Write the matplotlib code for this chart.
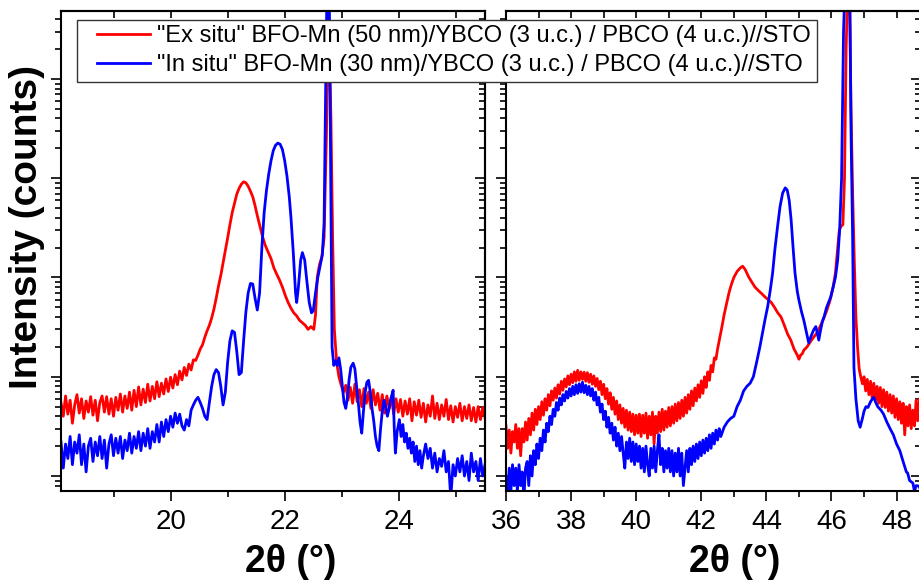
import matplotlib
matplotlib.use('Agg')
import matplotlib.pyplot as plt
import numpy as np
from matplotlib.lines import Line2D
from matplotlib.legend_handler import HandlerLine2D
from matplotlib.ticker import MultipleLocator, LogLocator, NullFormatter

plt.rcParams['font.family'] = ['Liberation Sans', 'DejaVu Sans']

#===========================================================
# --- Données ---------------------------------------------
#===========================================================

label_ex = '"Ex situ" BFO-Mn (50 nm)/YBCO (3 u.c.) / PBCO (4 u.c.)//STO'
label_in = '"In situ" BFO-Mn (30 nm)/YBCO (3 u.c.) / PBCO (4 u.c.)//STO'

# Fenêtre 18-25.5° : pic (001)
ex_1_theta = [
    18.07, 18.11, 18.15, 18.19, 18.23, 18.27, 18.31, 18.35, 18.39, 18.43,
    18.47, 18.51, 18.55, 18.59, 18.63, 18.67, 18.71, 18.75, 18.79, 18.83,
    18.87, 18.91, 18.95, 18.99, 19.03, 19.07, 19.11, 19.15, 19.19, 19.23,
    19.27, 19.31, 19.35, 19.39, 19.43, 19.47, 19.51, 19.55, 19.59, 19.63,
    19.67, 19.71, 19.75, 19.79, 19.83, 19.87, 19.91, 19.95, 19.99, 20.03,
    20.07, 20.11, 20.15, 20.19, 20.23, 20.27, 20.31, 20.35, 20.39, 20.43,
    20.47, 20.51, 20.55, 20.59, 20.63, 20.67, 20.71, 20.75, 20.79, 20.83,
    20.87, 20.91, 20.95, 20.99, 21.03, 21.07, 21.11, 21.15, 21.19, 21.23,
    21.27, 21.31, 21.35, 21.39, 21.43, 21.47, 21.51, 21.55, 21.60, 21.65,
    21.70, 21.75, 21.80, 21.85, 21.90, 21.95, 22.00, 22.05, 22.10, 22.15,
    22.20, 22.25, 22.30, 22.35, 22.40, 22.45, 22.50, 22.53, 22.56, 22.60,
    22.64, 22.68, 22.72, 22.76, 22.80, 22.83, 22.86, 22.90, 22.94, 22.98,
    23.02, 23.06, 23.10, 23.14, 23.18, 23.22, 23.26, 23.30, 23.34, 23.38,
    23.42, 23.46, 23.50, 23.54, 23.58, 23.62, 23.66, 23.70, 23.74, 23.78,
    23.82, 23.86, 23.90, 23.94, 23.98, 24.02, 24.06, 24.10, 24.14, 24.18,
    24.22, 24.26, 24.30, 24.34, 24.38, 24.42, 24.46, 24.50, 24.54, 24.58,
    24.62, 24.66, 24.70, 24.74, 24.78, 24.82, 24.86, 24.90, 24.94, 24.98,
    25.02, 25.06, 25.10, 25.14, 25.18, 25.22, 25.26, 25.30, 25.34, 25.38,
    25.42, 25.46, 25.50]
ex_1_counts = [
    55, 40, 64, 42, 58, 34, 52, 66, 43, 60,
    38, 57, 44, 63, 41, 58, 36, 55, 64, 44,
    63, 42, 60, 40, 62, 46, 67, 44, 64, 48,
    70, 46, 73, 50, 79, 52, 75, 55, 84, 57,
    80, 60, 89, 63, 86, 67, 95, 71, 99, 77,
    105, 83, 114, 93, 124, 103, 134, 117, 148, 146,
    165, 190, 210, 250, 290, 330, 390, 480, 620, 820,
    1050, 1400, 1850, 2500, 3400, 4500, 5600, 6900, 7900, 8700,
    9200, 9000, 8300, 7400, 6500, 5300, 4200, 3400, 2600, 2100,
    1800, 1550, 1250, 1080, 940, 800, 660, 560, 490, 440,
    410, 370, 350, 330, 300, 320, 300, 420, 1000, 1350,
    1600, 2500, 25000, 440000, 40000, 2500, 300, 140, 100, 82,
    70, 82, 58, 78, 54, 84, 56, 74, 50, 76,
    54, 70, 48, 74, 52, 68, 46, 66, 43, 64,
    48, 62, 42, 60, 44, 59, 40, 57, 42, 60,
    36, 56, 41, 58, 39, 54, 35, 52, 40, 64,
    38, 54, 37, 52, 40, 59, 37, 51, 35, 50,
    39, 54, 36, 50, 38, 52, 36, 49, 35, 50,
    37, 49, 39]

in_1_theta = [
    18.07, 18.11, 18.15, 18.19, 18.23, 18.27, 18.31, 18.35, 18.39, 18.43,
    18.47, 18.51, 18.55, 18.59, 18.63, 18.67, 18.71, 18.75, 18.79, 18.83,
    18.87, 18.91, 18.95, 18.99, 19.03, 19.07, 19.11, 19.15, 19.19, 19.23,
    19.27, 19.31, 19.35, 19.39, 19.43, 19.47, 19.51, 19.55, 19.59, 19.63,
    19.67, 19.71, 19.75, 19.79, 19.83, 19.87, 19.91, 19.95, 19.99, 20.03,
    20.07, 20.11, 20.15, 20.19, 20.23, 20.27, 20.31, 20.35, 20.39, 20.43,
    20.47, 20.51, 20.55, 20.59, 20.63, 20.67, 20.71, 20.75, 20.79, 20.83,
    20.87, 20.91, 20.95, 20.99, 21.03, 21.07, 21.11, 21.15, 21.19, 21.23,
    21.27, 21.31, 21.35, 21.39, 21.43, 21.47, 21.51, 21.55, 21.59, 21.63,
    21.67, 21.71, 21.75, 21.79, 21.83, 21.87, 21.91, 21.95, 21.99, 22.03,
    22.07, 22.10, 22.14, 22.18, 22.20, 22.23, 22.27, 22.30, 22.34, 22.38,
    22.42, 22.46, 22.49, 22.53, 22.57, 22.61, 22.65, 22.68, 22.71, 22.74,
    22.77, 22.80, 22.82, 22.85, 22.88, 22.91, 22.94, 22.97, 23.00, 23.03,
    23.06, 23.09, 23.12, 23.15, 23.19, 23.22, 23.25, 23.28, 23.31, 23.34,
    23.37, 23.40, 23.43, 23.46, 23.49, 23.52, 23.55, 23.58, 23.61, 23.64,
    23.67, 23.70, 23.73, 23.76, 23.79, 23.82, 23.85, 23.89, 23.91, 23.93,
    23.96, 24.00, 24.03, 24.06, 24.09, 24.12, 24.15, 24.18, 24.21, 24.24,
    24.27, 24.30, 24.33, 24.36, 24.39, 24.42, 24.46, 24.50, 24.54, 24.58,
    24.62, 24.66, 24.70, 24.74, 24.78, 24.82, 24.86, 24.90, 24.94, 24.98,
    25.02, 25.06, 25.10, 25.14, 25.18, 25.22, 25.26, 25.30, 25.34, 25.38,
    25.42, 25.46, 25.50]
in_1_counts = [
    22, 12, 21, 15, 25, 13, 22, 17, 26, 13,
    21, 11, 20, 24, 14, 22, 16, 25, 15, 23,
    12, 21, 26, 16, 24, 17, 25, 15, 23, 18,
    27, 17, 25, 19, 28, 18, 27, 20, 30, 19,
    28, 22, 33, 22, 35, 25, 37, 28, 40, 31,
    43, 34, 42, 32, 29, 37, 32, 46, 52, 58,
    62, 55, 48, 40, 37, 55, 80, 105, 118, 110,
    80, 52, 70, 140, 230, 290, 280, 180, 105, 110,
    230, 450, 700, 870, 860, 620, 470, 700, 2000, 4500,
    7500, 11000, 15000, 19000, 21500, 22600, 22000, 19500, 15000, 10500,
    6500, 4000, 1800, 700, 560, 800, 1500, 1780, 1500, 900,
    560, 440, 460, 700, 1000, 1300, 1700, 3500, 100000, 2000000,
    900000, 5000, 200, 130, 145, 130, 155, 120, 80, 55,
    48, 62, 95, 125, 137, 120, 80, 55, 35, 27,
    45, 70, 88, 92, 70, 48, 36, 25, 20, 18,
    30, 45, 58, 50, 40, 48, 60, 73, 30, 17,
    28, 37, 25, 33, 22, 27, 19, 24, 17, 22,
    14, 20, 13, 18, 12, 16, 21, 15, 19, 12,
    17, 11, 15, 12.5, 18, 11, 14, 6, 13, 10,
    15, 11, 16, 10, 14, 9, 17, 11, 14, 9,
    15, 10, 13]

# Fenêtre 36-48.8° : pic (002)
ex_2_theta = [
    36.00, 36.05, 36.10, 36.15, 36.20, 36.25, 36.30, 36.35, 36.40, 36.45,
    36.50, 36.55, 36.60, 36.65, 36.70, 36.75, 36.80, 36.85, 36.90, 36.95,
    37.00, 37.05, 37.10, 37.15, 37.20, 37.25, 37.30, 37.35, 37.40, 37.45,
    37.50, 37.55, 37.60, 37.65, 37.70, 37.75, 37.80, 37.85, 37.90, 37.95,
    38.00, 38.05, 38.10, 38.15, 38.20, 38.25, 38.30, 38.35, 38.40, 38.45,
    38.50, 38.55, 38.60, 38.65, 38.70, 38.75, 38.80, 38.85, 38.90, 38.95,
    39.00, 39.05, 39.10, 39.15, 39.20, 39.25, 39.30, 39.35, 39.40, 39.45,
    39.50, 39.55, 39.60, 39.65, 39.70, 39.75, 39.80, 39.85, 39.90, 39.95,
    40.00, 40.05, 40.10, 40.15, 40.20, 40.25, 40.30, 40.35, 40.40, 40.45,
    40.50, 40.55, 40.60, 40.65, 40.70, 40.75, 40.80, 40.85, 40.90, 40.95,
    41.00, 41.05, 41.10, 41.15, 41.20, 41.25, 41.30, 41.35, 41.40, 41.45,
    41.50, 41.55, 41.60, 41.65, 41.70, 41.75, 41.80, 41.85, 41.90, 41.95,
    42.00, 42.05, 42.10, 42.15, 42.20, 42.25, 42.30, 42.35, 42.40, 42.45,
    42.50, 42.55, 42.60, 42.65, 42.70, 42.75, 42.80, 42.85, 42.90, 42.95,
    43.00, 43.10, 43.20, 43.27, 43.35, 43.45, 43.55, 43.65, 43.75, 43.85,
    43.95, 44.05, 44.15, 44.25, 44.35, 44.45, 44.55, 44.65, 44.75, 44.85,
    44.95, 45.00, 45.05, 45.10, 45.15, 45.25, 45.35, 45.45, 45.55, 45.65,
    45.75, 45.85, 45.95, 46.05, 46.12, 46.18, 46.24, 46.30, 46.35, 46.40,
    46.45, 46.50, 46.55, 46.60, 46.65, 46.70, 46.75, 46.80, 46.85, 46.90,
    46.95, 47.00, 47.05, 47.10, 47.15, 47.20, 47.25, 47.30, 47.35, 47.40,
    47.45, 47.50, 47.55, 47.60, 47.65, 47.70, 47.75, 47.80, 47.85, 47.90,
    47.95, 48.00, 48.05, 48.10, 48.15, 48.20, 48.25, 48.30, 48.35, 48.40,
    48.45, 48.50, 48.55, 48.60, 48.65, 48.70, 48.75]
ex_2_counts = [
    32, 19, 29, 17, 28, 22, 33, 19, 30, 16,
    30, 22, 35, 23, 38, 26, 43, 29, 47, 33,
    50, 37, 56, 41, 60, 46, 66, 51, 72, 58,
    77, 61, 83, 67, 90, 73, 95, 79, 102, 83,
    106, 87, 112, 90, 116, 92, 112, 94, 111, 90,
    110, 88, 106, 84, 102, 80, 96, 74, 90, 66,
    84, 60, 76, 53, 69, 47, 62, 42, 57, 37,
    52, 34, 48, 31, 46, 29, 44, 28, 42, 26,
    41, 27, 42, 25, 41, 27, 43, 24, 40, 26,
    44, 21, 40, 27, 44, 28, 47, 29, 45, 31,
    49, 32, 50, 34, 53, 36, 55, 38, 58, 40,
    62, 43, 66, 47, 72, 51, 77, 57, 83, 62,
    91, 68, 100, 78, 112, 92, 130, 112, 155, 150,
    190, 230, 280, 340, 420, 500, 590, 700, 800, 900,
    1000, 1150, 1250, 1300, 1200, 1020, 900, 800, 740, 690,
    640, 600, 560, 500, 440, 400, 330, 270, 234, 190,
    165, 150, 165, 170, 185, 200, 225, 250, 275, 320,
    380, 460, 580, 800, 1100, 1800, 3000, 3300, 3400, 10000,
    200000, 1000000, 1000000, 50000, 7000, 1500, 400, 200, 120, 100,
    85, 100, 72, 94, 66, 90, 60, 86, 58, 80,
    54, 78, 50, 74, 49, 70, 45, 66, 43, 64,
    39, 60, 37, 56, 34, 54, 26, 50, 32, 52,
    30, 46, 32, 58, 36, 60, 38]

in_2_theta = [
    36.00, 36.05, 36.10, 36.15, 36.20, 36.25, 36.30, 36.35, 36.40, 36.45,
    36.50, 36.55, 36.60, 36.65, 36.70, 36.75, 36.80, 36.85, 36.90, 36.95,
    37.00, 37.05, 37.10, 37.15, 37.20, 37.25, 37.30, 37.35, 37.40, 37.45,
    37.50, 37.55, 37.60, 37.65, 37.70, 37.75, 37.80, 37.85, 37.90, 37.95,
    38.00, 38.05, 38.10, 38.15, 38.20, 38.25, 38.30, 38.35, 38.40, 38.45,
    38.50, 38.55, 38.60, 38.65, 38.70, 38.75, 38.80, 38.85, 38.90, 38.95,
    39.00, 39.05, 39.10, 39.15, 39.20, 39.25, 39.30, 39.35, 39.40, 39.45,
    39.50, 39.55, 39.60, 39.65, 39.70, 39.75, 39.80, 39.85, 39.90, 39.95,
    40.00, 40.05, 40.10, 40.15, 40.20, 40.25, 40.30, 40.35, 40.40, 40.45,
    40.50, 40.55, 40.60, 40.65, 40.70, 40.75, 40.80, 40.85, 40.90, 40.95,
    41.00, 41.05, 41.10, 41.15, 41.20, 41.25, 41.30, 41.35, 41.40, 41.45,
    41.50, 41.55, 41.60, 41.65, 41.70, 41.75, 41.80, 41.85, 41.90, 41.95,
    42.00, 42.05, 42.10, 42.15, 42.20, 42.25, 42.30, 42.35, 42.40, 42.45,
    42.50, 42.55, 42.60, 42.70, 42.80, 42.90, 43.00, 43.10, 43.20, 43.30,
    43.40, 43.50, 43.60, 43.70, 43.80, 43.88, 43.96, 44.04, 44.12, 44.19,
    44.26, 44.34, 44.42, 44.50, 44.58, 44.64, 44.70, 44.76, 44.82, 44.88,
    44.95, 45.00, 45.08, 45.15, 45.22, 45.30, 45.38, 45.46, 45.52, 45.57,
    45.61, 45.66, 45.72, 45.77, 45.85, 45.93, 45.98, 46.05, 46.12, 46.19,
    46.25, 46.31, 46.37, 46.45, 46.55, 46.60, 46.65, 46.69, 46.75, 46.82,
    46.88, 46.95, 47.00, 47.06, 47.12, 47.20, 47.26, 47.30, 47.36, 47.42,
    47.52, 47.60, 47.70, 47.80, 47.90, 48.00, 48.10, 48.20, 48.30, 48.34,
    48.40, 48.50, 48.55, 48.60, 48.69, 48.75]
in_2_counts = [
    10, 6, 12, 7, 13, 8, 12, 7, 13, 8,
    11, 6, 12, 14, 8, 16, 10, 18, 13, 21,
    15, 24, 18, 29, 22, 34, 28, 40, 33, 47,
    40, 55, 46, 61, 52, 66, 57, 71, 61, 76,
    64, 80, 66, 83, 68, 85, 70, 88, 69, 82,
    66, 80, 64, 76, 58, 70, 52, 62, 44, 53,
    37, 45, 31, 39, 27, 34, 23, 31, 20, 27,
    18, 25, 17, 12, 22, 15, 24, 14, 22, 13,
    21, 14, 20, 12, 19, 11, 20, 13, 10, 19,
    12, 20, 11, 18, 26, 13, 19, 11, 18, 12,
    19, 11, 18, 10, 17, 11, 19, 10, 17, 8,
    12, 18, 11, 19, 13, 20, 14, 21, 15, 22,
    16, 23, 17, 24, 18, 26, 19, 27, 21, 29,
    23, 30, 25, 31, 35, 38, 40, 50, 58, 72,
    80, 86, 100, 140, 200, 275, 380, 510, 750, 1100,
    1900, 3200, 5200, 7100, 8000, 7600, 6000, 3800, 2000, 1100,
    720, 590, 450, 370, 290, 220, 260, 300, 320, 270,
    234, 290, 360, 400, 500, 580, 640, 800, 1000, 1500,
    3000, 10000, 300000, 2000000, 2000000, 30000, 2500, 124, 60, 36,
    31, 38, 45, 50, 49, 56, 60, 62, 55, 50,
    46, 42, 35, 30, 26, 21, 18, 14, 11, 10.7,
    9, 8.5, 7, 8, 7.9, 7]

#===========================================================
# --- Figure et mise en page -------------------------------
#===========================================================

red = '#ff0000'
blue = '#0000ff'
ylims = (7.06, 4.84e5)

fig = plt.figure(figsize=(9.2, 5.84), dpi=100)
ax1 = fig.add_axes([61 / 920, 93 / 584, 424 / 920, 480 / 584])
ax2 = fig.add_axes([506 / 920, 93 / 584, 415 / 920, 480 / 584])

ax1.plot(ex_1_theta, ex_1_counts, color=red, lw=2.0)
ax1.plot(in_1_theta, in_1_counts, color=blue, lw=2.0)
ax2.plot(ex_2_theta, ex_2_counts, color=red, lw=2.0)
ax2.plot(in_2_theta, in_2_counts, color=blue, lw=2.0)

ax1.set_xlim(18.07, 25.5)
ax2.set_xlim(36, 48.75)

for ax in (ax1, ax2):
    ax.set_yscale('log')
    ax.set_ylim(*ylims)
    ax.yaxis.set_major_locator(LogLocator(base=10, numticks=12))
    ax.yaxis.set_minor_locator(LogLocator(base=10, subs=np.arange(2, 10), numticks=12))
    ax.yaxis.set_major_formatter(NullFormatter())
    ax.yaxis.set_minor_formatter(NullFormatter())
    ax.xaxis.set_major_locator(MultipleLocator(2))
    ax.xaxis.set_minor_locator(MultipleLocator(1))
    for sp in ax.spines.values():
        sp.set_linewidth(1.5)
    ax.tick_params(which='major', direction='out', length=7, width=1.2,
                   labelsize=20, pad=6)
    ax.tick_params(which='minor', direction='out', length=4, width=1.2)
    ax.tick_params(axis='y', which='minor', length=4.5)

    # graduations miroir vers l'intérieur (haut et droite)
    top = ax.secondary_xaxis('top')
    top.xaxis.set_major_locator(MultipleLocator(2))
    top.xaxis.set_minor_locator(MultipleLocator(1))
    top.tick_params(which='both', direction='in', length=5, width=1.2, labeltop=False)
    top.spines['top'].set_linewidth(1.5)
    right = ax.secondary_yaxis('right')
    right.set_yscale('log')
    right.yaxis.set_major_locator(LogLocator(base=10, numticks=12))
    right.yaxis.set_minor_locator(LogLocator(base=10, subs=np.arange(2, 10), numticks=12))
    right.yaxis.set_major_formatter(NullFormatter())
    right.yaxis.set_minor_formatter(NullFormatter())
    right.tick_params(which='major', direction='in', length=7, width=1.2)
    right.tick_params(which='minor', direction='in', length=4.5, width=1.2)
    right.spines['right'].set_linewidth(1.5)

fig.text(27.5 / 920, 1 - 227 / 584, 'Intensity (counts)', rotation=90,
         fontsize=28, fontweight='bold', ha='center', va='center')
fig.text(291 / 920, 1 - 562 / 584, '2θ (°)', fontsize=27, fontweight='bold',
         ha='center', va='center')
fig.text(735 / 920, 1 - 562 / 584, '2θ (°)', fontsize=27, fontweight='bold',
         ha='center', va='center')

handles = [Line2D([], [], color=red, lw=2), Line2D([], [], color=blue, lw=2)]
leg = fig.legend(handles, [label_ex, label_in], loc='upper left',
                 bbox_to_anchor=(77 / 920, 1 - 19.5 / 584, 740 / 920, 0.0),
                 mode='expand', borderaxespad=0, borderpad=0.25,
                 handlelength=2.85, handletextpad=0.28, labelspacing=0.3,
                 fontsize=17, fancybox=False, framealpha=1,
                 edgecolor='#333333',
                 handler_map={Line2D: HandlerLine2D(xpad=0.6)})
leg.get_frame().set_linewidth(1.0)

fig.savefig('out.png', dpi=100)
